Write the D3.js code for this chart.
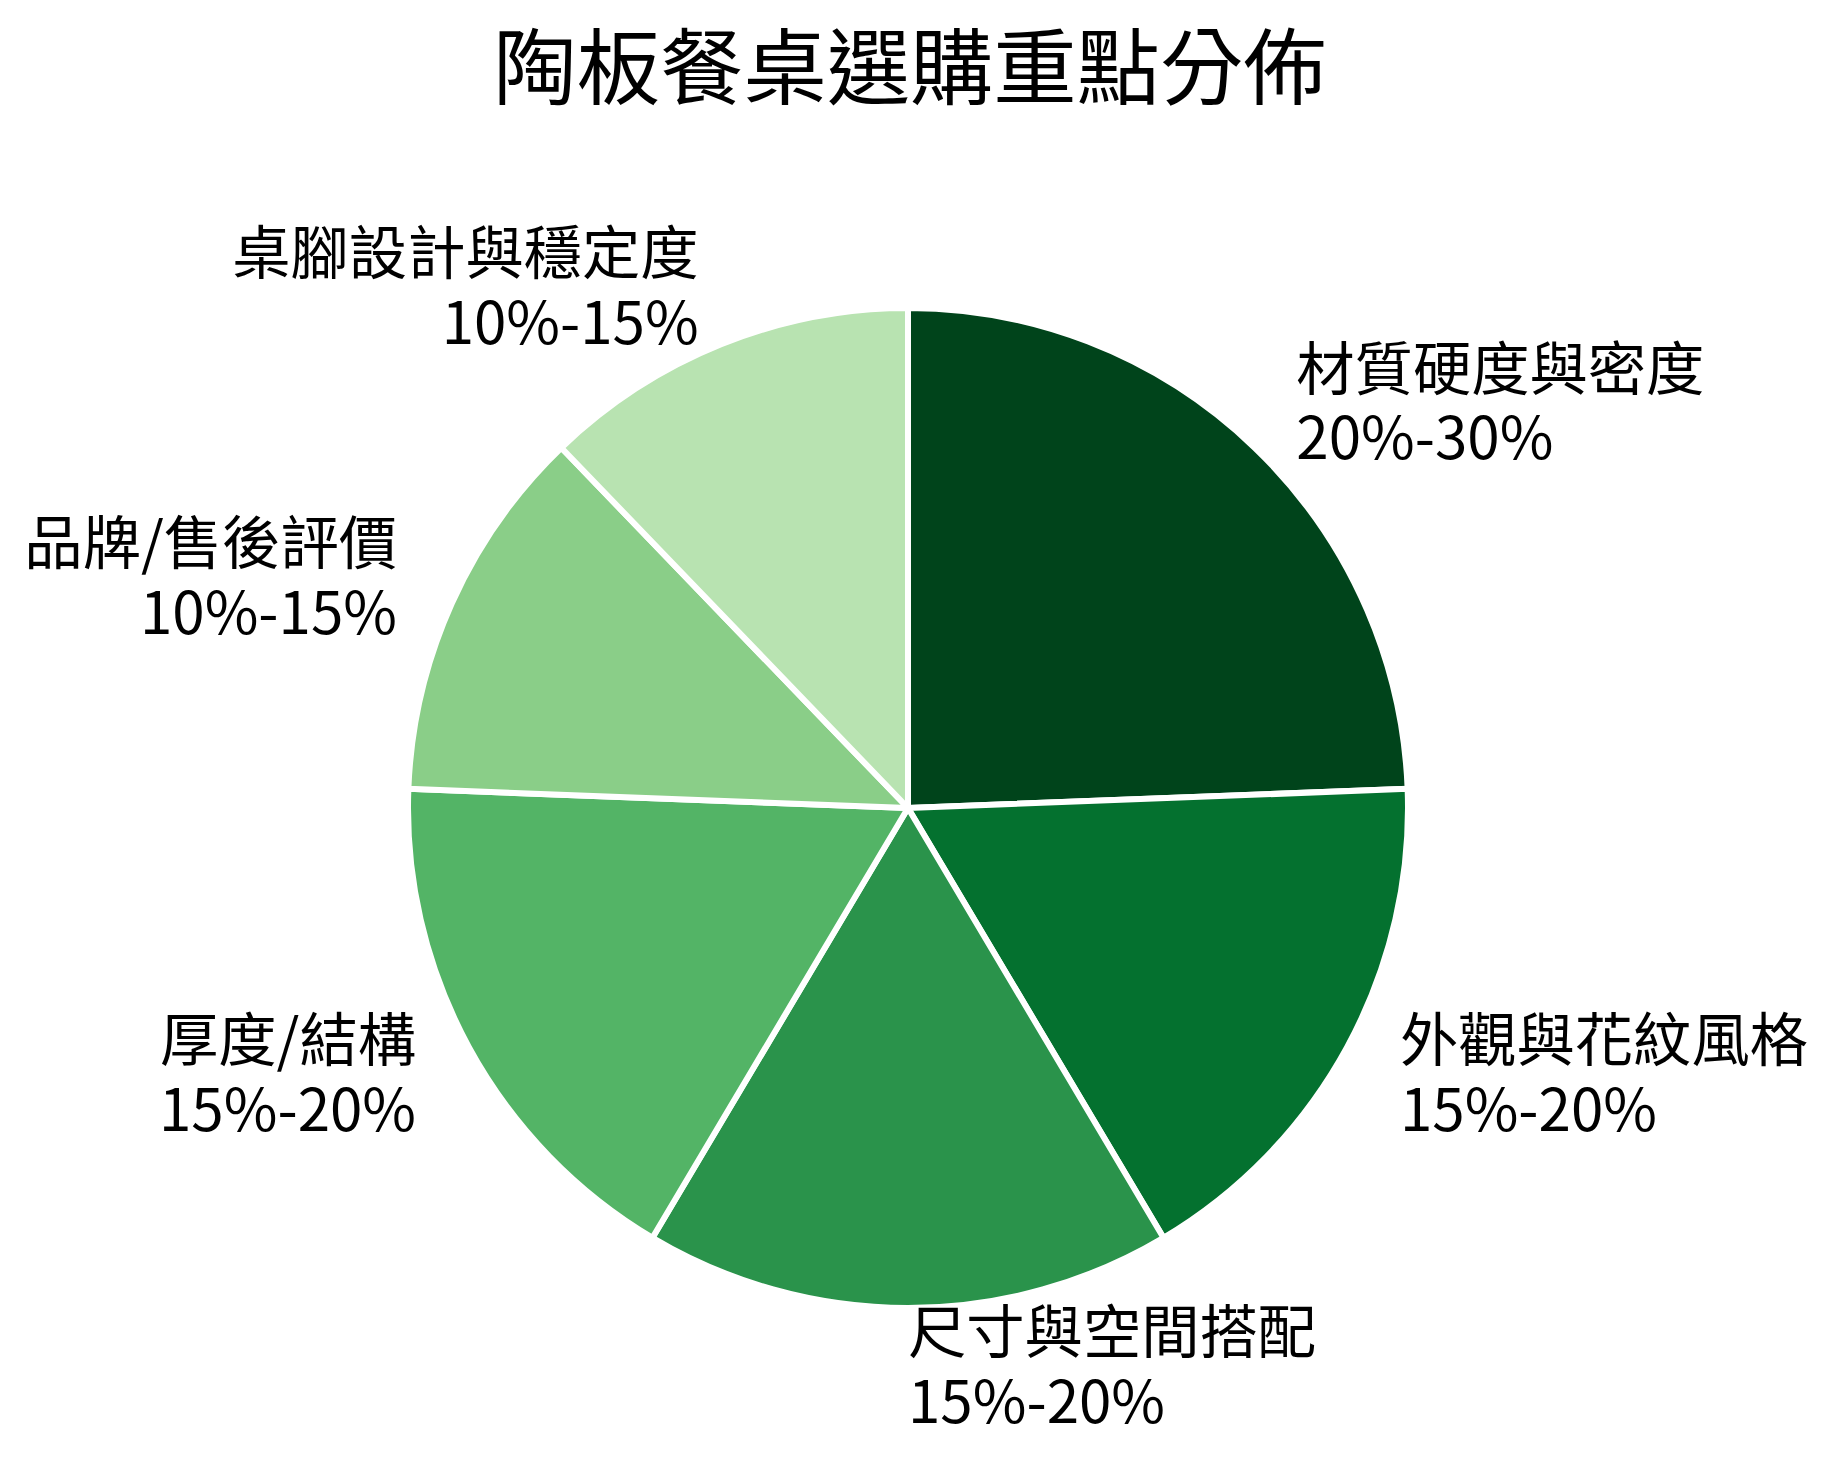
<!DOCTYPE html>
<html>
<head>
    <meta charset="utf-8">
    <style>
        body{
            margin: 0;
            background: #fff;
        }
        text{
            font-family: "Noto Sans CJK TC", "Noto Sans CJK SC", sans-serif;
            fill: #000;
        }
    </style>
</head>

<body>
    <svg width="1832" height="1468"></svg>
</body>

<script src="https://cdn.jsdelivr.net/npm/d3@7"></script>

<script>
    // slices, clockwise from 12 o'clock
    let categories = ["材質硬度與密度", "外觀與花紋風格", "尺寸與空間搭配", "厚度/結構", "品牌/售後評價", "桌腳設計與穩定度"]
    let rangeLabels = ["20%-30%", "15%-20%", "15%-20%", "15%-20%", "10%-15%", "10%-15%"]
    // midpoint of each range is what sizes the slice
    let values = [25, 17.5, 17.5, 17.5, 12.5, 12.5]
    let title = "陶板餐桌選購重點分佈"

    let width = 1832
    let height = 1468
    let cx = 908, cy = 808
    let radius = 500
    let labelFont = 58.3

    let svg = d3.select("svg")

    // Greens ramp, sampled from 1.0 down to 0.3
    let greens = ["#f7fcf5","#e5f5e0","#c7e9c0","#a1d99b","#74c476","#41ab5d","#238b45","#006d2c","#00441b"]
    let ramp = d3.scaleLinear()
        .domain(d3.range(9).map(i => i / 8))
        .range(greens)
    let shade = d3.scaleLinear()
        .domain([0, categories.length - 1])
        .range([1.0, 0.3])

    let pie = d3.pie()
        .sort(null)
        .value(d => d)

    let arcs = pie(values)

    let arc = d3.arc()
        .innerRadius(0)
        .outerRadius(radius)

    let g = svg.append("g")
        .attr("transform", `translate(${cx},${cy})`)

    g.selectAll(".slice")
        .data(arcs)
        .join("path")
        .attr("class", "slice")
        .attr("d", arc)
        .style("fill", (d, i) => ramp(shade(i)))
        .style("stroke", "#fff")
        .style("stroke-width", 6)
        .style("stroke-linejoin", "round")

    // labels sit just outside the rim at 1.12 r
    let labelArc = d3.arc()
        .innerRadius(radius * 1.12)
        .outerRadius(radius * 1.12)

    let labels = g.selectAll(".label")
        .data(arcs)
        .join("text")
        .attr("class", "label")
        .style("font-size", labelFont + "px")
        .attr("text-anchor", d => {
            let mid = (d.startAngle + d.endAngle) / 2
            return Math.sin(mid) >= -1e-9 ? "start" : "end"
        })
        .attr("transform", d => {
            let c = labelArc.centroid(d)
            return `translate(${c[0]},${c[1]})`
        })

    labels.append("tspan")
        .attr("x", 0)
        .attr("y", -0.257 * labelFont)
        .text((d, i) => categories[i])

    labels.append("tspan")
        .attr("x", 0)
        .attr("y", 0.943 * labelFont)
        .text((d, i) => rangeLabels[i])

    svg.append("text")
        .attr("x", cx + 2)
        .attr("y", 98)
        .attr("text-anchor", "middle")
        .style("font-size", "83.3px")
        .text(title)
</script>
</html>
